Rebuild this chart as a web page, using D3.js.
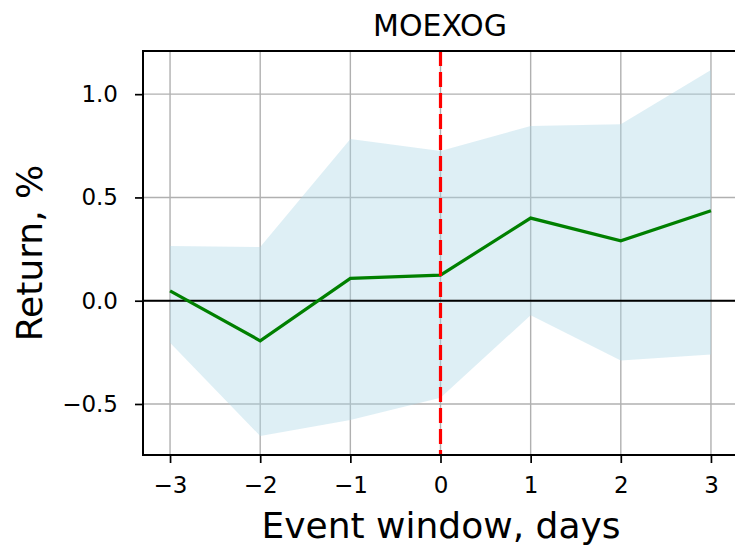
<!DOCTYPE html>
<html>
<head>
<meta charset="utf-8">
<script src="https://cdn.jsdelivr.net/npm/d3@7"></script>
<style>
  body { margin: 0; background: #fff; }
  text { font-family: "DejaVu Sans", sans-serif; fill: #000; }
</style>
</head>
<body>
<div id="chart"></div>
<script>
// event window data
const days = [-3, -2, -1, 0, 1, 2, 3];
const meanReturn = [0.048, -0.194, 0.108, 0.124, 0.40, 0.29, 0.436];
const upperBand = [0.265, 0.26, 0.783, 0.725, 0.846, 0.854, 1.117];
const lowerBand = [-0.203, -0.655, -0.578, -0.47, -0.07, -0.29, -0.26];
const xTicks = [-3, -2, -1, 0, 1, 2, 3];
const yTicks = [-0.5, 0.0, 0.5, 1.0];

const width = 735, height = 549;
const margin = { top: 51, right: -3, bottom: 94, left: 143 };

const svg = d3.select("#chart").append("svg")
    .attr("width", width)
    .attr("height", height);

const x = d3.scaleLinear().domain([-3.3, 3.3]).range([margin.left, width - margin.right]);
const y = d3.scaleLinear().domain([-0.747, 1.209]).range([height - margin.bottom, margin.top]);

const fmt = d => (d < 0 ? "\u2212" : "") + Math.abs(d).toFixed(1);

// grid
const grid = svg.append("g");
grid.selectAll(".gx").data(xTicks).enter().append("line")
    .attr("x1", d => x(d)).attr("x2", d => x(d))
    .attr("y1", y.range()[1]).attr("y2", y.range()[0])
    .attr("stroke", "#b0b0b0").attr("stroke-width", 1.4);
grid.selectAll(".gy").data(yTicks).enter().append("line")
    .attr("x1", x.range()[0]).attr("x2", x.range()[1])
    .attr("y1", d => y(d)).attr("y2", d => y(d))
    .attr("stroke", "#b0b0b0").attr("stroke-width", 1.4);

// confidence band
const area = d3.area()
    .x((d, i) => x(days[i]))
    .y0((d, i) => y(lowerBand[i]))
    .y1((d, i) => y(upperBand[i]));
svg.append("path")
    .datum(days)
    .attr("d", area)
    .attr("fill", "#add8e6")
    .attr("fill-opacity", 0.4);

// zero line
svg.append("line")
    .attr("x1", x.range()[0]).attr("x2", x.range()[1])
    .attr("y1", y(0)).attr("y2", y(0))
    .attr("stroke", "#000").attr("stroke-width", 2);

// mean line
const line = d3.line()
    .x((d, i) => x(days[i]))
    .y(d => y(d));
svg.append("path")
    .datum(meanReturn)
    .attr("d", line)
    .attr("fill", "none")
    .attr("stroke", "#008000")
    .attr("stroke-width", 3.2);

// event day
svg.append("line")
    .attr("x1", x(0)).attr("x2", x(0))
    .attr("y1", y.range()[1]).attr("y2", y.range()[0])
    .attr("stroke", "#ff0000").attr("stroke-width", 3.2)
    .attr("stroke-dasharray", "15,6");

// axes
const xAxis = d3.axisBottom(x).tickValues(xTicks).tickSize(8).tickPadding(14)
    .tickFormat(d => (d < 0 ? "\u2212" : "") + Math.abs(d));
const yAxis = d3.axisLeft(y).tickValues(yTicks).tickSize(8).tickPadding(17).tickFormat(fmt);

const gx = svg.append("g")
    .attr("transform", `translate(0,${y.range()[0]})`)
    .call(xAxis);
const gy = svg.append("g")
    .attr("transform", `translate(${x.range()[0]},0)`)
    .call(yAxis);
[gx, gy].forEach(g => {
    g.select(".domain").remove();
    g.selectAll(".tick line").attr("stroke", "#000").attr("stroke-width", 1.7);
    g.selectAll(".tick text").attr("font-size", 23).attr("font-family", "DejaVu Sans").attr("fill", "#000");
});

// frame
svg.append("rect")
    .attr("x", x.range()[0]).attr("y", y.range()[1])
    .attr("width", x.range()[1] - x.range()[0])
    .attr("height", y.range()[0] - y.range()[1])
    .attr("fill", "none").attr("stroke", "#000").attr("stroke-width", 2);

// title and labels
svg.append("text")
    .attr("x", 440).attr("y", 36)
    .attr("text-anchor", "middle")
    .attr("font-size", 30)
    .text("MOEXOG");

svg.append("text")
    .attr("x", 441).attr("y", 538)
    .attr("text-anchor", "middle")
    .attr("font-size", 36)
    .text("Event window, days");

svg.append("text")
    .attr("transform", `translate(42,${(y.range()[0] + y.range()[1]) / 2}) rotate(-90)`)
    .attr("text-anchor", "middle")
    .attr("font-size", 36)
    .text("Return, %");
</script>
</body>
</html>
